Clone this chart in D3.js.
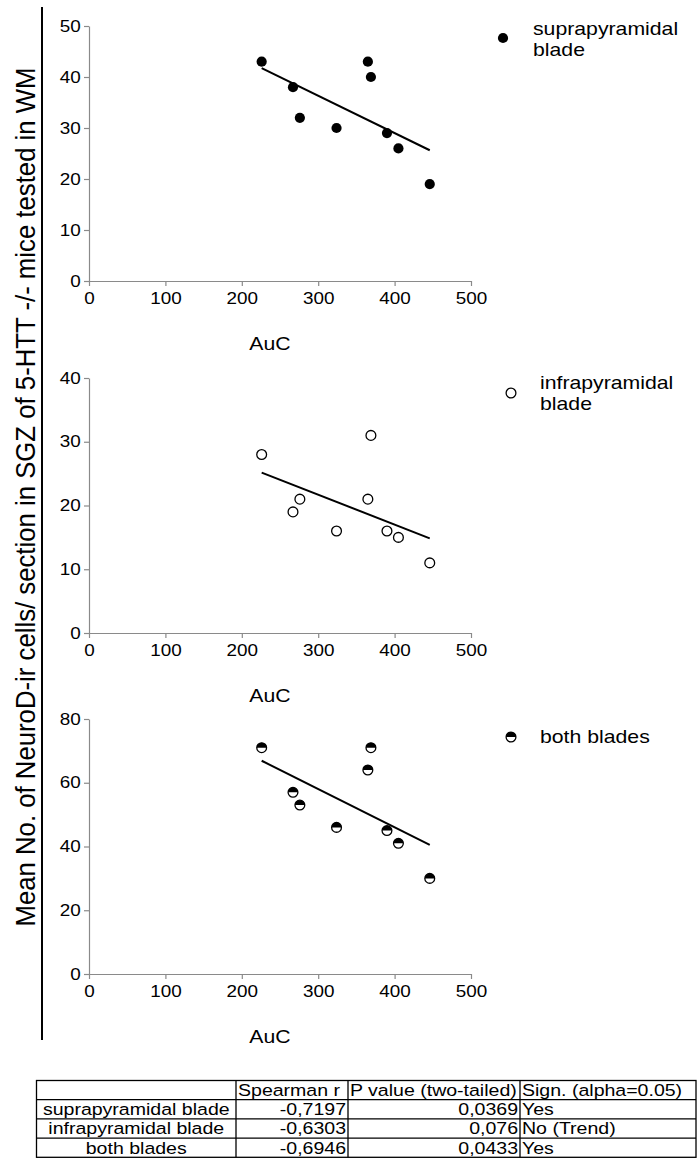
<!DOCTYPE html>
<html>
<head>
<meta charset="utf-8">
<script src="https://cdn.jsdelivr.net/npm/d3@7"></script>
<style>
  html, body { margin: 0; padding: 0; background: #fff; }
  svg { display: block; font-family: "Liberation Sans", Arial, Helvetica, sans-serif; }
</style>
</head>
<body>
<div id="chart"></div>
<script>
// data
const auc = [226, 267, 276, 324, 365, 369, 390, 405, 446];
const supraValues = [43, 38, 32, 30, 43, 40, 29, 26, 19];
const infraValues = [28, 19, 21, 16, 21, 31, 16, 15, 11];
const bothValues = [71, 57, 53, 46, 64, 71, 45, 41, 30];

const xTicks = [0, 100, 200, 300, 400, 500];
const supraTicks = [0, 10, 20, 30, 40, 50];
const infraTicks = [0, 10, 20, 30, 40];
const bothTicks = [0, 20, 40, 60, 80];

const supraLegend = ['suprapyramidal', 'blade'];
const infraLegend = ['infrapyramidal', 'blade'];
const bothLegend = ['both blades'];

const xLabel = 'AuC';
const yLabel = 'Mean No. of NeuroD-ir cells/ section in SGZ of 5-HTT -/- mice tested in WM';

const tableHeader = ['', 'Spearman r', 'P value (two-tailed)', 'Sign. (alpha=0.05)'];
const tableRows = [
    ['suprapyramidal blade', '-0,7197', '0,0369', 'Yes'],
    ['infrapyramidal blade', '-0,6303', '0,076', 'No (Trend)'],
    ['both blades', '-0,6946', '0,0433', 'Yes']
];

const width = 699, height = 1166;
const SX = 1.18;      // the source figure is stretched horizontally
const axisColor = '#8a8a8a';

const svg = d3.select('#chart').append('svg')
    .attr('width', width)
    .attr('height', height);

svg.append('rect').attr('width', width).attr('height', height).attr('fill', '#fff');

const x = d3.scaleLinear().domain([0, 500]).range([89, 471]);

function stretchedText(parent, tx, ty, str, size, anchor, sx = SX) {
    return parent.append('text')
        .attr('transform', `translate(${tx},${ty}) scale(${sx},1)`)
        .attr('text-anchor', anchor || 'start')
        .style('font-size', size + 'px')
        .attr('fill', '#000')
        .text(str);
}

function linearFit(xs, ys) {
    const mx = d3.mean(xs), my = d3.mean(ys);
    let num = 0, den = 0;
    xs.forEach((v, i) => { num += (v - mx) * (ys[i] - my); den += (v - mx) ** 2; });
    const slope = num / den;
    return v => my + slope * (v - mx);
}

const R = 4.9;
const halfArc = d3.arc()({ innerRadius: 0, outerRadius: R, startAngle: -Math.PI / 2, endAngle: Math.PI / 2 });

function marker(g, cx, cy, type) {
    if (type === 'filled') {
        g.append('circle').attr('cx', cx).attr('cy', cy).attr('r', R + 0.2).attr('fill', '#000');
    } else if (type === 'open') {
        g.append('circle').attr('cx', cx).attr('cy', cy).attr('r', R)
            .attr('fill', '#fff').attr('stroke', '#000').attr('stroke-width', 1.3);
    } else {
        g.append('circle').attr('cx', cx).attr('cy', cy).attr('r', R)
            .attr('fill', '#fff').attr('stroke', '#000').attr('stroke-width', 1.3);
        g.append('path').attr('d', halfArc).attr('transform', `translate(${cx},${cy})`).attr('fill', '#000');
    }
}

const panels = [
    { top: 26, max: 50, ticks: supraTicks, values: supraValues, type: 'filled',
      legend: supraLegend, lx: 503, ly: 38, tx: 533, ty: 35 },
    { top: 378, max: 40, ticks: infraTicks, values: infraValues, type: 'open',
      legend: infraLegend, lx: 511, ly: 393, tx: 540, ty: 389 },
    { top: 719, max: 80, ticks: bothTicks, values: bothValues, type: 'half',
      legend: bothLegend, lx: 511, ly: 737, tx: 540, ty: 743 }
];
const plotH = 255;

panels.forEach(p => {
    const g = svg.append('g');
    const y = d3.scaleLinear().domain([0, p.max]).range([p.top + plotH, p.top]);

    const xAxis = g.append('g')
        .attr('transform', `translate(0,${p.top + plotH})`)
        .call(d3.axisBottom(x).tickValues(xTicks).tickSize(5).tickSizeOuter(0).tickPadding(7));
    const yAxis = g.append('g')
        .attr('transform', `translate(${x(0)},0)`)
        .call(d3.axisLeft(y).tickValues(p.ticks).tickSize(5).tickSizeOuter(0).tickPadding(2));

    [xAxis, yAxis].forEach(a => {
        a.selectAll('path, line').attr('stroke', axisColor).attr('stroke-width', 1.2);
        a.selectAll('text')
            .attr('fill', '#000')
            .style('font-size', '16px')
            .style('font-family', '"Liberation Sans", Arial, Helvetica, sans-serif')
            .attr('transform', `scale(${SX},1)`);
    });

    // regression line
    const fit = linearFit(auc, p.values);
    const x0 = d3.min(auc), x1 = d3.max(auc);
    g.append('line')
        .attr('x1', x(x0)).attr('y1', y(fit(x0)))
        .attr('x2', x(x1)).attr('y2', y(fit(x1)))
        .attr('stroke', '#000').attr('stroke-width', 2);

    auc.forEach((a, i) => marker(g, x(a), y(p.values[i]), p.type));

    // x label
    stretchedText(g, 270, p.top + plotH + 68.5, xLabel, 18, 'middle');

    // legend
    marker(g, p.lx, p.ly, p.type);
    p.legend.forEach((t, i) => stretchedText(g, p.tx, p.ty + i * 21, t, 18, 'start'));
});

// shared y label and the rule beside it
svg.append('line')
    .attr('x1', 42).attr('x2', 42).attr('y1', 7).attr('y2', 1040)
    .attr('stroke', '#000').attr('stroke-width', 2);

svg.append('text')
    .attr('transform', `translate(35,497) scale(${SX},1) rotate(-90)`)
    .attr('text-anchor', 'middle')
    .attr('textLength', 859)
    .attr('lengthAdjust', 'spacingAndGlyphs')
    .style('font-size', '23px')
    .attr('fill', '#000')
    .text(yLabel);

// statistics table
const colEdges = [36.5, 236, 348, 520, 696];
const tTop = 1080.5, rowH = 19.2;
const TSX = 1.15;
const tg = svg.append('g');
const allRows = [tableHeader, ...tableRows];

tg.append('rect')
    .attr('x', colEdges[0]).attr('y', tTop)
    .attr('width', colEdges[4] - colEdges[0]).attr('height', rowH * allRows.length)
    .attr('fill', 'none').attr('stroke', '#000').attr('stroke-width', 1.3);
d3.range(1, allRows.length).forEach(r => {
    tg.append('line')
        .attr('x1', colEdges[0]).attr('x2', colEdges[4])
        .attr('y1', tTop + r * rowH).attr('y2', tTop + r * rowH)
        .attr('stroke', '#000').attr('stroke-width', 1.3);
});
colEdges.slice(1, 4).forEach(cx => {
    tg.append('line')
        .attr('x1', cx).attr('x2', cx)
        .attr('y1', tTop).attr('y2', tTop + rowH * allRows.length)
        .attr('stroke', '#000').attr('stroke-width', 1.3);
});

allRows.forEach((row, r) => {
    const by = tTop + r * rowH + 15.5;
    row.forEach((cell, c) => {
        if (!cell) return;
        let tx, anchor;
        if (r === 0) { tx = colEdges[c] + 2; anchor = 'start'; }
        else if (c === 0) { tx = (colEdges[0] + colEdges[1]) / 2; anchor = 'middle'; }
        else if (c === 3) { tx = colEdges[c] + 2; anchor = 'start'; }
        else { tx = colEdges[c + 1] - 2; anchor = 'end'; }
        stretchedText(tg, tx, by, cell, 17, anchor, TSX);
    });
});
</script>
</body>
</html>
